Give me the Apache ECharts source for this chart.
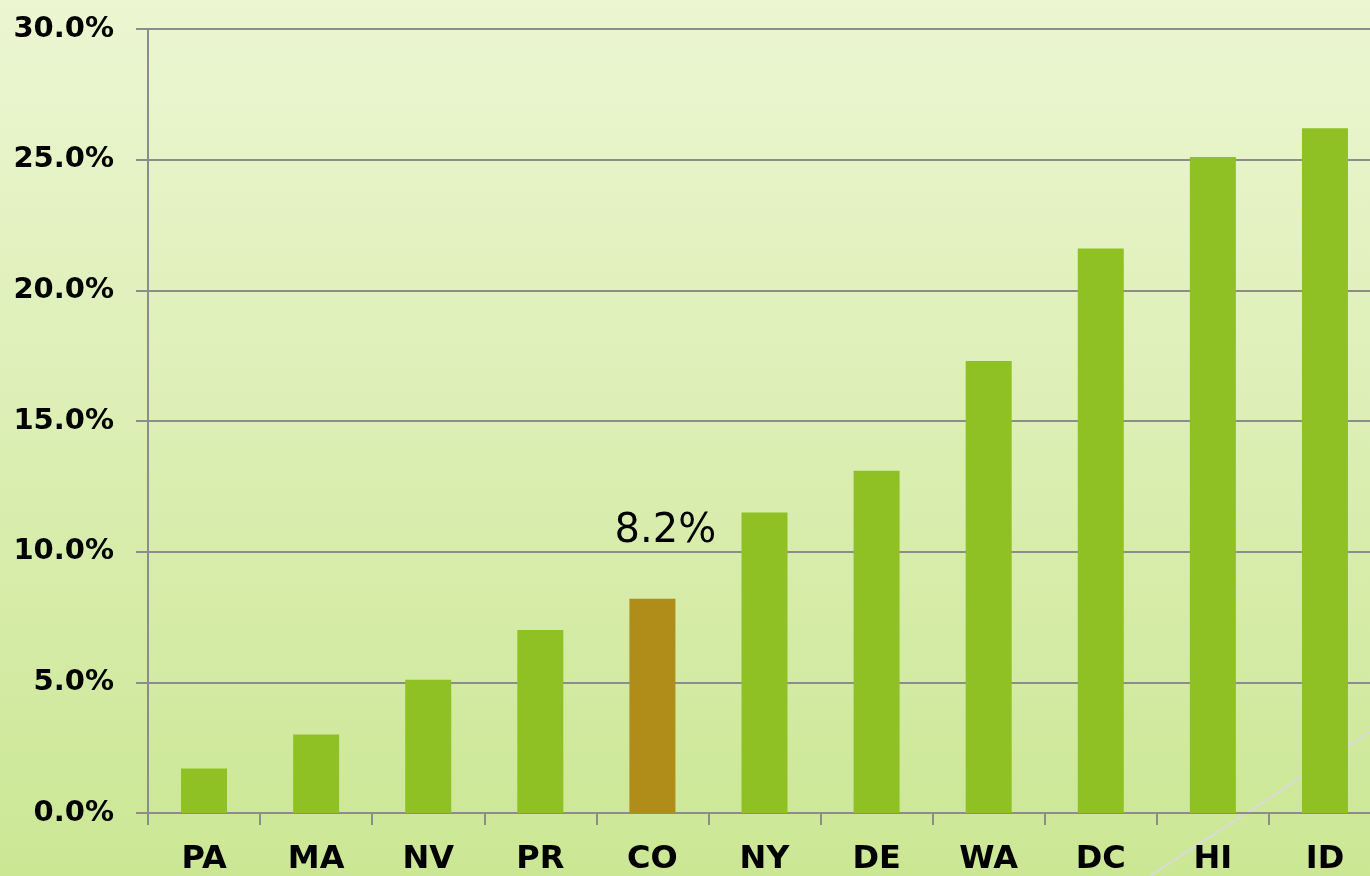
<!DOCTYPE html>
<html>
<head>
<meta charset="utf-8">
<script src="https://cdn.jsdelivr.net/npm/echarts@6/dist/echarts.min.js"></script>
<style>
  html, body { margin: 0; padding: 0; }
  #chart { width: 1370px; height: 876px; }
</style>
</head>
<body>
<div id="chart"></div>
<script>
// values
const states = ['PA', 'MA', 'NV', 'PR', 'CO', 'NY', 'DE', 'WA', 'DC', 'HI', 'ID']
const rates = [1.7, 3.0, 5.1, 7.0, 8.2, 11.5, 13.1, 17.3, 21.6, 25.1, 26.2]
const highlight = 'CO'

const initChart = () => {
    const myChart = echarts.init(document.getElementById('chart'))

    const barData = states.map((s, i) => {
        if (s !== highlight) return rates[i]
        return {
            value: rates[i],
            itemStyle: { color: '#b08c18' },
            label: {
                show: true,
                position: 'top',
                distance: 47,
                offset: [13, 0],
                formatter: p => p.value.toFixed(1) + '%',
                fontFamily: 'DejaVu Sans',
                fontSize: 40,
                color: '#000'
            }
        }
    })

    myChart.setOption({
        backgroundColor: new echarts.graphic.LinearGradient(0, 0, 0, 1, [
            { offset: 0, color: '#ecf6d2' },
            { offset: 1, color: '#cbe794' }
        ]),
        graphic: [{
            type: 'line',
            z: -1,
            shape: { x1: 1150, y1: 876, x2: 1370, y2: 732 },
            style: { stroke: '#dadada', lineWidth: 2 }
        }],
        grid: { left: 148, top: 29, right: -11, bottom: 63, outerBoundsMode: 'none', containLabel: false },
        xAxis: {
            type: 'category',
            data: states,
            axisLine: { lineStyle: { color: '#8c8c8c', width: 2 } },
            axisTick: { show: true, length: 12, lineStyle: { color: '#8c8c8c', width: 2 } },
            axisLabel: {
                margin: 31,
                fontFamily: 'DejaVu Sans',
                fontWeight: 'bold',
                fontSize: 32,
                color: '#000'
            }
        },
        yAxis: {
            type: 'value',
            min: 0,
            max: 30,
            interval: 5,
            axisLine: { show: true, lineStyle: { color: '#8c8c8c', width: 2 } },
            axisTick: { show: true, length: 12, lineStyle: { color: '#8c8c8c', width: 2 } },
            splitLine: { lineStyle: { color: '#8c8c8c', width: 2 } },
            axisLabel: {
                margin: 34,
                formatter: v => v.toFixed(1) + '%',
                fontFamily: 'DejaVu Sans',
                fontWeight: 'bold',
                fontSize: 29,
                color: '#000'
            }
        },
        series: [{
            type: 'bar',
            data: barData,
            barWidth: 46,
            itemStyle: { color: '#8fc124' },
            z: 3
        }]
    })
}

window.addEventListener('load', () => {
    initChart()
})
</script>
</body>
</html>
